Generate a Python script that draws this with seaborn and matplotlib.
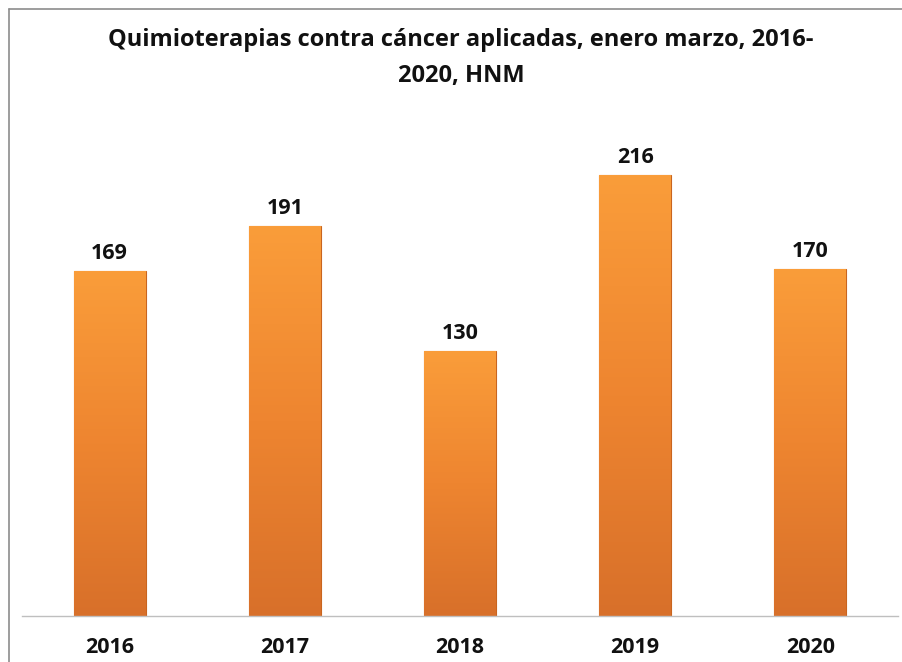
import matplotlib
matplotlib.use("Agg")
import matplotlib.pyplot as plt
import seaborn as sns
import numpy as np
import pandas as pd
from matplotlib.lines import Line2D
from matplotlib.colors import LinearSegmentedColormap

years = ["2016", "2017", "2018", "2019", "2020"]
values = [169, 191, 130, 216, 170]
title = "Quimioterapias contra cáncer aplicadas, enero marzo, 2016-\n2020, HNM"

sns.set_theme(style="white")
plt.rcParams['font.family'] = ['Open Sans', 'DejaVu Sans']

fig = plt.figure(figsize=(9.02, 6.62), dpi=100)
W, H = 902, 662
ax = fig.add_axes([22 / W, 1 - 616 / H, 876 / W, (616 - 106) / H])

df = pd.DataFrame({"year": years, "value": values})
sns.barplot(data=df, x="year", y="value", ax=ax, color="#F0882E", width=0.41,
            edgecolor="#C9651F", linewidth=0.8)
ax.set_ylim(0, 250)

cmap = LinearSegmentedColormap.from_list("g", ["#D8702A", "#EE8530", "#FA9D3A"])
grad = np.linspace(0, 1, 256).reshape(-1, 1)
for p in list(ax.patches):
    x0, y0 = p.get_x(), p.get_y()
    w, h = p.get_width(), p.get_height()
    im = ax.imshow(grad, cmap=cmap, origin="lower", aspect="auto",
                   extent=[x0, x0 + w, y0, y0 + h], zorder=p.get_zorder() + 0.1)
    im.set_clip_path(p)
ax.set_xlim(-0.5, 4.5)

for i, v in enumerate(values):
    ax.text(i, v + 3.5, str(v), ha="center", va="bottom", fontsize=15.5,
            fontweight="bold", color="#111111")

ax.set_xlabel("")
ax.set_ylabel("")
ax.set_yticks([])
ax.tick_params(axis="x", length=0, pad=15, labelsize=15.5)
for lbl in ax.get_xticklabels():
    lbl.set_fontweight("bold")
    lbl.set_color("#111111")
for s in ["top", "right", "left"]:
    ax.spines[s].set_visible(False)
ax.spines["bottom"].set_color("#BFBFBF")
ax.spines["bottom"].set_linewidth(1.0)

fig.text(461 / W, 1 - 58 / H, title, ha="center", va="center", fontsize=17,
         fontweight="bold", color="#111111", linespacing=1.72)

fig.add_artist(Line2D([8.5 / W, 8.5 / W], [0, 1 - 9 / H], transform=fig.transFigure,
                      color="#8C8C8C", linewidth=1.2))
fig.add_artist(Line2D([8.5 / W, 1], [1 - 9 / H, 1 - 9 / H], transform=fig.transFigure,
                      color="#8C8C8C", linewidth=1.2))

fig.savefig("out.png", dpi=100)
